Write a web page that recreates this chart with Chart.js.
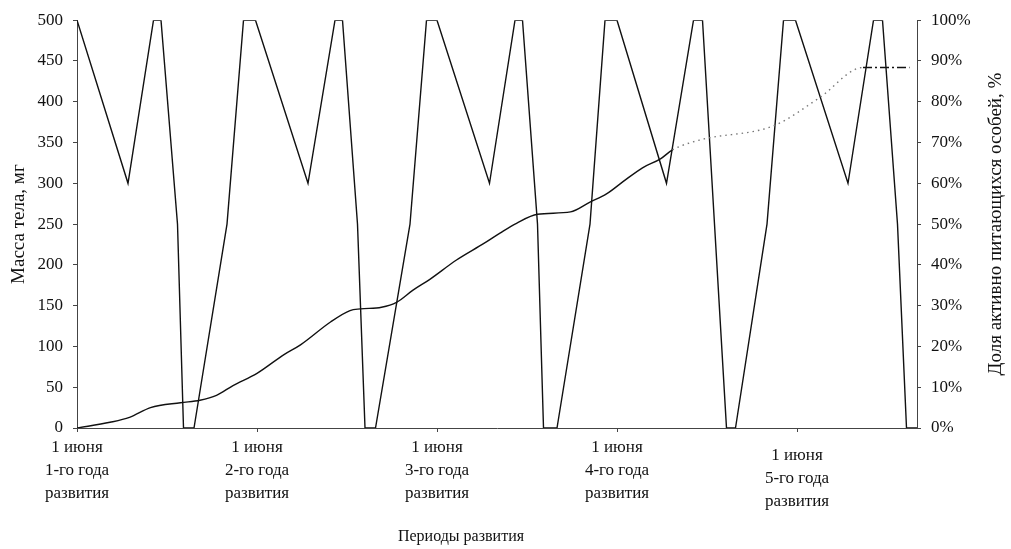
<!DOCTYPE html>
<html>
<head>
<meta charset="utf-8">
<script src="https://cdn.jsdelivr.net/npm/chart.js@4.4.1/dist/chart.umd.min.js"></script>
<style>
  html, body { margin: 0; padding: 0; background: #fff; }
  #wrap { width: 1011px; height: 549px; }
</style>
</head>
<body>
<div id="wrap"><canvas id="chart"></canvas></div>
<script>
// x = months since 1 June of the 1st year of development
const massMonths = [0, 2.2, 3.5, 4.9, 6.9, 8.2, 9.3, 10.4, 12.0, 13.8, 14.9, 16.9, 18.2, 18.9, 20.3, 21.3, 22.4, 23.5, 25.3, 27.1, 28.2, 29.3, 30.7, 32.9, 34.2, 35.3, 36.4, 37.7, 38.9, 39.7, 41.5, 46.5, 49.5, 52.4, 55.5];
const massValues = [0, 7, 13, 25, 31, 34, 40, 52, 67, 90, 102, 130, 144, 146, 148, 154, 169, 182, 206, 226, 239, 251, 262, 265, 277, 287, 302, 319, 330, 341, 353, 371, 405, 442, 442];

const feedMonths = [0, 3.4, 5.1, 5.6, 6.7, 7.1, 7.8, 10.0, 11.1, 11.9,
    15.4, 17.2, 17.7, 18.7, 19.2, 19.9, 22.2, 23.3, 24.0,
    27.5, 29.2, 29.7, 30.7, 31.1, 32.0, 34.2, 35.2, 36.0,
    39.3, 41.1, 41.7, 42.5, 43.3, 43.9, 46.0, 47.1, 47.9,
    51.4, 53.1, 53.7, 54.7, 55.3, 56.0];
const feedValues = [100, 60, 100, 100, 50, 0, 0, 50, 100, 100,
    60, 100, 100, 50, 0, 0, 50, 100, 100,
    60, 100, 100, 50, 0, 0, 50, 100, 100,
    60, 100, 100, 50, 0, 0, 50, 100, 100,
    60, 100, 100, 50, 0, 0];

const tickMonths = [0, 12, 24, 36, 48];
const tickLabels = [
    ['1 июня', '1-го года', 'развития'],
    ['1 июня', '2-го года', 'развития'],
    ['1 июня', '3-го года', 'развития'],
    ['1 июня', '4-го года', 'развития'],
    ['1 июня', '5-го года', 'развития']
];
const lastTick = 48; // the 5th label sits a bit lower in the original

const serif = '"Liberation Serif", "Times New Roman", serif';
Chart.defaults.font.family = serif;
Chart.defaults.color = '#111';

const axisBorder = { display: true, color: '#444', width: 1, dash: [8, 3, 2, 3] };

// right axis title reads bottom-to-top, Chart.js would flip it
const rightTitle = {
    id: 'rightTitle',
    afterDraw(chart) {
        const ctx = chart.ctx;
        const area = chart.chartArea;
        ctx.save();
        ctx.translate(chart.width - 15, (area.top + area.bottom) / 2);
        ctx.rotate(-Math.PI / 2);
        ctx.font = '19px ' + serif;
        ctx.fillStyle = '#111';
        ctx.textAlign = 'center';
        ctx.textBaseline = 'middle';
        ctx.fillText('Доля активно питающихся особей, %', 0, 0);
        ctx.restore();
    }
};

new Chart(document.getElementById('chart'), {
    type: 'line',
    data: {
        datasets: [
            {
                label: 'Масса тела',
                data: massMonths.map((m, i) => ({ x: m, y: massValues[i] })),
                yAxisID: 'y',
                borderColor: '#111',
                borderWidth: 1.4,
                pointRadius: 0,
                cubicInterpolationMode: 'monotone',
                segment: {
                    borderDash: ctx => ctx.p0.parsed.x >= 52 ? [9, 3, 2, 3] : (ctx.p0.parsed.x >= 39.5 ? [1.5, 4] : undefined),
                    borderColor: ctx => (ctx.p0.parsed.x >= 39.5 && ctx.p0.parsed.x < 52) ? '#777' : undefined
                }
            },
            {
                label: 'Доля активно питающихся',
                data: feedMonths.map((m, i) => ({ x: m, y: feedValues[i] })),
                yAxisID: 'y1',
                borderColor: '#111',
                borderWidth: 1.4,
                pointRadius: 0,
                tension: 0
            }
        ]
    },
    options: {
        responsive: true,
        maintainAspectRatio: false,
        animation: false,
        layout: { padding: { top: 13, left: 0, right: 0, bottom: 0 } },
        plugins: {
            legend: { display: false },
            tooltip: { enabled: false }
        },
        scales: {
            x: {
                type: 'linear',
                min: 0,
                max: 56,
                afterBuildTicks: scale => { scale.ticks = tickMonths.map(v => ({ value: v })); },
                afterFit: scale => { scale.height = 121; },
                ticks: {
                    autoSkip: false,
                    maxRotation: 0,
                    padding: 4,
                    font: { size: 17, lineHeight: 1.35 },
                    callback: v => v === lastTick ? '' : tickLabels[tickMonths.indexOf(v)]
                },
                grid: { drawOnChartArea: false, tickLength: 4, color: '#444' },
                border: axisBorder,
                title: {
                    display: true,
                    text: 'Периоды развития' + '\u00A0'.repeat(18),
                    font: { size: 16 },
                    padding: { top: 0, bottom: 3 }
                }
            },
            x5: {
                type: 'linear',
                position: { y: 0 },
                min: 0,
                max: 56,
                afterBuildTicks: scale => { scale.ticks = [{ value: lastTick }]; },
                ticks: {
                    autoSkip: false,
                    maxRotation: 0,
                    padding: 16,
                    font: { size: 17, lineHeight: 1.35 },
                    callback: v => tickLabels[tickMonths.indexOf(v)]
                },
                grid: { display: false, drawTicks: false },
                border: { display: false }
            },
            y: {
                position: 'left',
                min: 0,
                max: 500,
                afterFit: scale => { scale.width = 77; },
                ticks: { stepSize: 50, padding: 10, font: { size: 17 } },
                grid: { drawOnChartArea: false, tickLength: 4, color: '#444' },
                border: axisBorder,
                title: {
                    display: true,
                    text: 'Масса тела, мг',
                    font: { size: 19 },
                    padding: { top: 8, bottom: 0 }
                }
            },
            y1: {
                position: 'right',
                min: 0,
                max: 100,
                afterFit: scale => { scale.width = 94; },
                ticks: { stepSize: 10, padding: 10, font: { size: 17 }, callback: v => v + '%' },
                grid: { drawOnChartArea: false, tickLength: 4, color: '#444' },
                border: axisBorder
            }
        }
    },
    plugins: [rightTitle]
});
</script>
</body>
</html>
